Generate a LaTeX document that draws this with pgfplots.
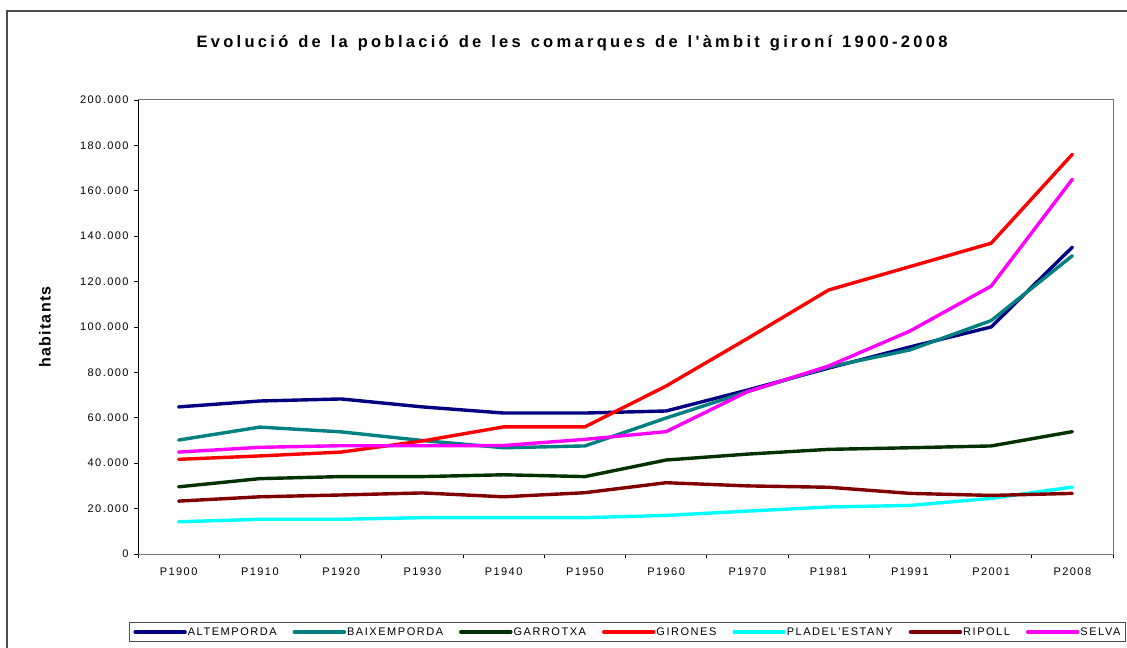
\documentclass[border=0pt]{standalone}
\usepackage{fontspec}
\setmainfont{Liberation Sans}
\newfontfamily\tickfont[LetterSpace=13]{Liberation Sans}
\newfontfamily\legfont[LetterSpace=14]{Liberation Sans}
\newfontfamily\titlefont[LetterSpace=20]{Liberation Sans Bold}
\newfontfamily\ylabfont[LetterSpace=8]{Liberation Sans Bold}
\usepackage{pgfplots}
\usepackage{pgfplotstable}
\pgfplotsset{compat=1.18}

\definecolor{cAlt}{RGB}{0,0,128}
\definecolor{cBaix}{RGB}{0,128,128}
\definecolor{cGarr}{RGB}{0,51,0}
\definecolor{cGiro}{RGB}{255,0,0}
\definecolor{cPla}{RGB}{0,255,255}
\definecolor{cRip}{RGB}{128,0,0}
\definecolor{cSelva}{RGB}{255,0,255}

\pgfplotstableread{
idx alt baix garr giro pla rip selva
0 64800 50200 29600 41700 14200 23300 44900
1 67400 55900 33200 43200 15300 25200 47000
2 68300 53800 34100 44900 15300 26000 47700
3 64800 50000 34100 49800 16000 26900 47700
4 62100 46800 34900 56000 16000 25200 47800
5 62100 47600 34100 56000 16000 27000 50500
6 63000 59900 41400 74000 17000 31400 53900
7 72200 71500 44000 94900 18900 30000 71500
8 81900 82400 46100 116300 20700 29400 82800
9 91200 89900 46800 126600 21400 26700 98200
10 100000 102800 47600 136900 24500 25800 118000
11 135200 131400 53900 176100 29500 26700 165100
}\datatable

\begin{document}
\begin{tikzpicture}
\useasboundingbox (0,0) rectangle (1127bp,648bp);
\draw[line width=1.5bp, black!70] (7bp,-30bp) rectangle (1150bp,637bp);
\node[inner sep=0pt, font=\titlefont\fontsize{16.5bp}{18bp}\selectfont] at (572bp,605bp) {\makebox[751bp][s]{Evolució de la població de les comarques de l'àmbit gironí 1900-2008}};
\node[rotate=90, font=\ylabfont\fontsize{16bp}{18bp}\selectfont] at (45bp,321bp) {habitants};
\begin{axis}[
  at={(138bp,94bp)}, anchor=south west,
  scale only axis, width=975bp, height=454bp,
  xmin=-0.5, xmax=11.5, ymin=0, ymax=200000,
  xtick={0,...,11},
  xticklabels={P1900,P1910,P1920,P1930,P1940,P1950,P1960,P1970,P1981,P1991,P2001,P2008},
  minor xtick={-0.5,0.5,...,11.5},
  ytick={0,20000,...,200000},
  yticklabels={0,20.000,40.000,60.000,80.000,100.000,120.000,140.000,160.000,180.000,200.000},
  scaled y ticks=false,
  tick align=outside,
  major tick length=4bp, minor tick length=4bp,
  xtick pos=bottom, ytick pos=left,
  major x tick style={draw=none},
  minor x tick style={black, line width=0.8bp},
  major y tick style={black, line width=0.8bp},
  axis line style={black!55, line width=1bp},
  ticklabel style={font=\tickfont\fontsize{11bp}{13bp}\selectfont},
  xticklabel style={yshift=-6bp},
  yticklabel style={xshift=-2bp},
  every axis plot/.append style={line width=3.4bp, line join=round, line cap=round},
  legend columns=-1,
  legend style={at={(axis description cs:-0.0092,-0.1498)}, anchor=north west,
    draw=black!70, line width=0.8bp, inner xsep=4bp, inner ysep=3bp,
    font=\legfont\fontsize{11bp}{13bp}\selectfont,
    /tikz/every even column/.append style={column sep=15bp},
    nodes={inner xsep=1bp}},
  legend image code/.code={\draw[#1, line width=3.4bp, line cap=round] (0bp,0bp) -- (50bp,0bp);},
]
\addplot[cAlt] table[x=idx, y=alt] {\datatable};
\addlegendentry{ALTEMPORDA}
\addplot[cBaix] table[x=idx, y=baix] {\datatable};
\addlegendentry{BAIXEMPORDA}
\addplot[cGarr] table[x=idx, y=garr] {\datatable};
\addlegendentry{GARROTXA}
\addplot[cGiro] table[x=idx, y=giro] {\datatable};
\addlegendentry{GIRONES}
\addplot[cPla] table[x=idx, y=pla] {\datatable};
\addlegendentry{PLADEL'ESTANY}
\addplot[cRip] table[x=idx, y=rip] {\datatable};
\addlegendentry{RIPOLL}
\addplot[cSelva] table[x=idx, y=selva] {\datatable};
\addlegendentry{SELVA}
\draw[black, line width=1bp] (rel axis cs:0,1) -- (rel axis cs:0,0) -- (rel axis cs:1,0);
\end{axis}
\end{tikzpicture}
\end{document}
